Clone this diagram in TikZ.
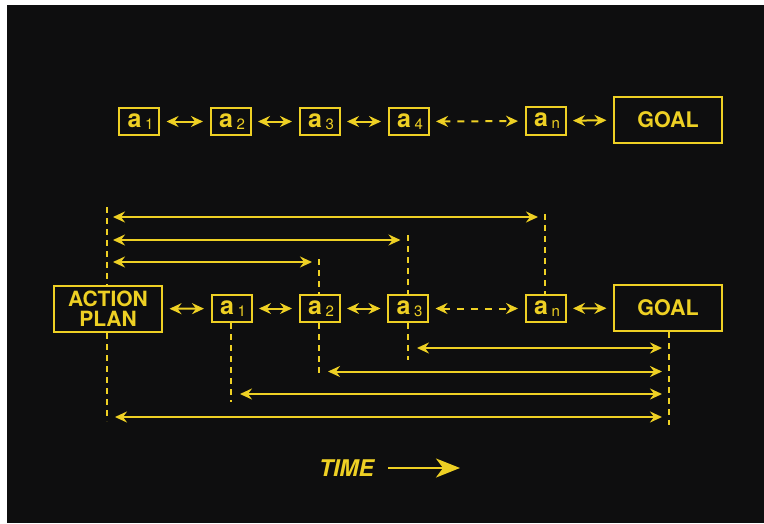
\documentclass[tikz,border=0pt]{standalone}
\usepackage{fontspec}
\setmainfont{TeX Gyre Heros}
\usetikzlibrary{arrows.meta}
\definecolor{ylw}{RGB}{238,208,36}
\definecolor{bgc}{RGB}{14,14,15}
\newcommand\myasub[1]{\hspace*{3pt}{\fontsize{25}{26}\selectfont\bfseries a}\hspace{3.5pt}\raisebox{-2pt}{\fontsize{15}{16}\selectfont #1}}
\begin{document}
\begin{tikzpicture}[x=1pt,y=-1pt,
  box/.style={draw=ylw, line width=2pt, inner sep=0pt, text=ylw},
  abox/.style={box, minimum width=40pt, minimum height=27.5pt},
  bigbox/.style={box, minimum width=108pt, minimum height=46pt, align=center, font=\fontsize{21.5}{20}\selectfont\bfseries},
  tip/.tip={Stealth[length=12pt,width=11pt,inset=4pt]},
  link/.style={draw=ylw, line width=2pt, tip-tip, shorten <=6.5pt, shorten >=6.5pt},
  dlink/.style={link, dash pattern=on 7pt off 7pt},
  guide/.style={draw=ylw, line width=2pt, dash pattern=on 6pt off 5pt},
  span/.style={draw=ylw, line width=2pt, tip-tip}
]
\useasboundingbox (0,0) rectangle (764,523);
\fill[white] (0,0) rectangle (764,523);
\fill[bgc] (7,5) rectangle (764,523);

% top row
\node[abox] (ta1) at (139,121.5) {\myasub{1}};
\node[abox] (ta2) at (230.5,121.5) {\myasub{2}};
\node[abox] (ta3) at (319.5,121.5) {\myasub{3}};
\node[abox] (ta4) at (408.5,121.5) {\myasub{4}};
\node[abox] (tan) at (545.5,121) {\myasub{n}};
\node[bigbox] (tgoal) at (668,119.5) {GOAL};
\draw[link] (ta1) -- (ta2);
\draw[link] (ta2) -- (ta3);
\draw[link] (ta3) -- (ta4);
\draw[dlink] (ta4) -- (tan);
\draw[link] (tan) -- (tgoal);

% bottom row
\node[bigbox, font=\fontsize{21}{20}\selectfont\bfseries] (ap) at (108,309) {ACTION\\PLAN};
\node[abox] (ba1) at (231.5,308.5) {\myasub{1}};
\node[abox] (ba2) at (319.5,308.5) {\myasub{2}};
\node[abox] (ba3) at (408,308.5) {\myasub{3}};
\node[abox] (ban) at (545.5,308.5) {\myasub{n}};
\node[bigbox] (bgoal) at (668,308) {GOAL};
\draw[link] (ap) -- (ba1);
\draw[link] (ba1) -- (ba2);
\draw[link] (ba2) -- (ba3);
\draw[dlink] (ba3) -- (ban);
\draw[link] (ban) -- (bgoal);

% guide line ends
\coordinate (apT) at (107,207);
\coordinate (apB) at (107,421);
\coordinate (a1B) at (231,402);
\coordinate (a2T) at (319,259);
\coordinate (a2B) at (319,374);
\coordinate (a3T) at (408,235);
\coordinate (a3B) at (408,360);
\coordinate (anT) at (545,214);
\coordinate (goB) at (669,425);
\draw[guide] (apT) -- (apT |- ap.north);
\draw[guide] (apB |- ap.south) -- (apB);
\draw[guide] (a1B |- ba1.south) -- (a1B);
\draw[guide] (a2T) -- (a2T |- ba2.north);
\draw[guide] (a2B |- ba2.south) -- (a2B);
\draw[guide] (a3T) -- (ba3.north);
\draw[guide] (ba3.south) -- (a3B);
\draw[guide] (anT) -- (anT |- ban.north);
\draw[guide] (goB |- bgoal.south) -- (goB);

% upper spans
\coordinate (u1l) at (107,217); \coordinate (u1r) at (545,217);
\coordinate (u2l) at (107,240); \coordinate (u2r) at (408,240);
\coordinate (u3l) at (107,262); \coordinate (u3r) at (319,262);
\draw[span, shorten <=6pt, shorten >=7pt] (u1l) -- (u1r);
\draw[span, shorten <=6pt, shorten >=7.5pt] (u2l) -- (u2r);
\draw[span, shorten <=6pt, shorten >=7pt] (u3l) -- (u3r);

% lower spans
\coordinate (l1l) at (408,348); \coordinate (l1r) at (669,348);
\coordinate (l2l) at (319,371.5); \coordinate (l2r) at (669,371.5);
\coordinate (l3l) at (231,394); \coordinate (l3r) at (669,394);
\coordinate (l4l) at (107,417); \coordinate (l4r) at (669,417);
\draw[span, shorten <=9pt, shorten >=7pt] (l1l) -- (l1r);
\draw[span, shorten <=9pt, shorten >=7pt] (l2l) -- (l2r);
\draw[span, shorten <=9pt, shorten >=7pt] (l3l) -- (l3r);
\draw[span, shorten <=8pt, shorten >=7pt] (l4l) -- (l4r);

% time
\node[text=ylw, inner sep=0pt, font=\fontsize{23}{24}\selectfont\bfseries\itshape] (time) at (346.5,468) {TIME};
\coordinate (tend) at (460,468);
\draw[draw=ylw, fill=ylw, line width=2pt, -{Stealth[length=24pt,width=19pt,inset=7pt]}] (time.east) ++(14,0) coordinate (tstart) -- (tend);
\end{tikzpicture}
\end{document}
